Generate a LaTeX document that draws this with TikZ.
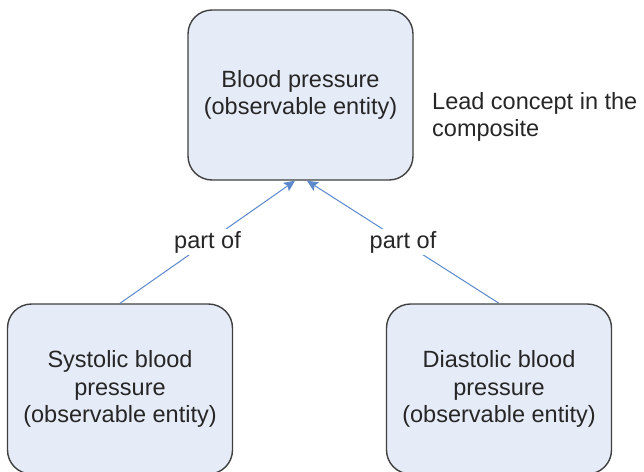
\documentclass[tikz,border=0pt]{standalone}
\usepackage{fontspec}
\setmainfont{Liberation Sans}
\usetikzlibrary{arrows.meta}
\definecolor{boxfill}{HTML}{E6ECF7}
\definecolor{boxline}{HTML}{404040}
\definecolor{linkblue}{HTML}{5B89CC}
\definecolor{txt}{HTML}{262626}
\tikzset{
  concept/.style={draw=boxline, line width=1.4pt, fill=boxfill, rounded corners=24pt,
    minimum width=225pt, minimum height=170pt, align=center, text=txt,
    font=\fontsize{23.5pt}{27.5pt}\selectfont, inner sep=0pt},
  link/.style={draw=linkblue, line width=1pt, -{Stealth[length=11pt,width=10pt,inset=2pt]}},
  linklabel/.style={fill=white, text=txt, font=\fontsize{23.5pt}{27.5pt}\selectfont, inner sep=2pt},
  note/.style={text=txt, align=left, anchor=north west, inner sep=0pt,
    font=\fontsize{23.5pt}{27pt}\selectfont}
}
\begin{document}
\begin{tikzpicture}[x=1pt,y=-1pt]
\useasboundingbox (0,0) rectangle (644,471);
\clip (0,0) rectangle (644,471);
\node[concept] (top) at (300.5,95) {Blood pressure\\(observable entity)};
\node[concept] (sys) at (120,389) {Systolic blood\\pressure\\(observable entity)};
\node[concept] (dia) at (499,389) {Diastolic blood\\pressure\\(observable entity)};
\node[note] (lead) at (432,92) {Lead concept in the\\composite};
\draw[link] (sys.north) -- node[linklabel] (l1) {part of} ([xshift=-5.5pt]top.south);
\draw[link] (dia.north) -- node[linklabel] (l2) {part of} ([xshift=6.5pt]top.south);
\end{tikzpicture}
\end{document}
